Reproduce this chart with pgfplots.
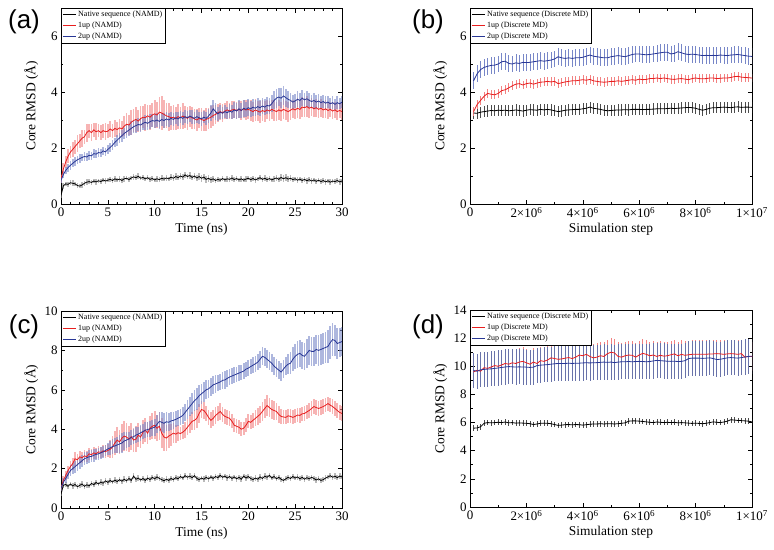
\documentclass[border=0pt]{standalone}
\usepackage{pgfplots}
\pgfplotsset{compat=1.18}
\usepackage{pgfplotstable}
\usepackage{fontspec}
\setmainfont{Liberation Serif}
\newfontfamily\panelfont{Liberation Sans}

\definecolor{cred}{RGB}{232,30,30}
\definecolor{cblue}{RGB}{40,55,150}
\definecolor{ered}{RGB}{242,130,130}
\definecolor{eblue}{RGB}{120,135,200}
\definecolor{egrey}{RGB}{140,140,140}
\definecolor{edblue}{RGB}{105,115,170}

% Panel (a): time (ns), native, err, 1up, err, 2up, err
\pgfplotstableread{
t k ke r re b be
0 0.30 0.08 0.90 0.15 0.85 0.10
0.25 0.65 0.10 1.25 0.20 1.05 0.12
0.5 0.72 0.08 1.50 0.22 1.20 0.12
0.75 0.70 0.10 1.70 0.25 1.30 0.14
1 0.76 0.08 1.85 0.22 1.38 0.15
1.25 0.74 0.10 1.95 0.28 1.45 0.14
1.5 0.72 0.08 2.05 0.25 1.52 0.16
1.75 0.66 0.10 2.15 0.30 1.58 0.14
2 0.64 0.08 2.25 0.25 1.62 0.15
2.25 0.68 0.10 2.35 0.30 1.66 0.14
2.5 0.74 0.08 2.40 0.25 1.70 0.15
2.75 0.78 0.10 2.55 0.32 1.68 0.14
3 0.80 0.08 2.62 0.25 1.74 0.16
3.25 0.77 0.10 2.55 0.30 1.72 0.14
3.5 0.82 0.08 2.65 0.25 1.80 0.15
3.75 0.79 0.10 2.58 0.30 1.78 0.14
4 0.83 0.08 2.62 0.22 1.84 0.16
4.25 0.80 0.10 2.55 0.28 1.82 0.14
4.5 0.86 0.08 2.62 0.25 1.90 0.15
4.75 0.82 0.10 2.58 0.30 1.86 0.14
5 0.85 0.08 2.60 0.25 1.95 0.16
5.25 0.88 0.10 2.68 0.30 2.02 0.15
5.5 0.84 0.08 2.62 0.25 2.10 0.18
5.75 0.90 0.10 2.70 0.30 2.20 0.16
6 0.86 0.08 2.66 0.28 2.28 0.20
6.25 0.89 0.10 2.72 0.32 2.36 0.18
6.5 0.84 0.08 2.68 0.30 2.44 0.22
6.75 0.90 0.10 2.78 0.35 2.52 0.20
7 0.92 0.08 2.85 0.40 2.58 0.24
7.25 0.87 0.10 2.82 0.35 2.64 0.22
7.5 0.93 0.08 2.92 0.45 2.70 0.25
7.75 0.97 0.10 2.98 0.40 2.76 0.22
8 0.94 0.08 3.02 0.45 2.80 0.25
8.25 0.99 0.10 2.96 0.38 2.84 0.22
8.5 0.92 0.08 3.05 0.45 2.82 0.26
8.75 0.95 0.10 3.10 0.40 2.88 0.24
9 0.90 0.08 3.08 0.48 2.92 0.26
9.25 0.94 0.10 3.15 0.40 2.88 0.24
9.5 0.88 0.08 3.10 0.45 2.94 0.26
9.75 0.91 0.10 3.18 0.42 2.98 0.24
10 0.86 0.08 3.22 0.50 2.96 0.26
10.25 0.90 0.10 3.18 0.45 3.00 0.24
10.5 0.87 0.08 3.28 0.55 2.95 0.26
10.75 0.92 0.10 3.25 0.60 3.02 0.24
11 0.89 0.08 3.20 0.50 2.98 0.26
11.25 0.93 0.10 3.15 0.45 3.04 0.24
11.5 0.90 0.08 3.12 0.50 3.00 0.26
11.75 0.96 0.10 3.08 0.42 3.06 0.24
12 0.92 0.10 3.10 0.45 3.02 0.24
12.25 0.98 0.12 3.05 0.40 3.08 0.22
12.5 0.94 0.10 3.12 0.45 3.04 0.24
12.75 1.00 0.12 3.08 0.40 3.10 0.22
13 0.96 0.10 3.14 0.45 3.06 0.24
13.25 1.04 0.12 3.10 0.40 3.12 0.22
13.5 0.98 0.10 3.06 0.42 3.08 0.24
13.75 1.02 0.12 3.12 0.38 3.14 0.22
14 0.95 0.10 3.08 0.40 3.10 0.24
14.25 1.00 0.12 3.04 0.36 3.06 0.22
14.5 0.93 0.10 3.00 0.40 3.12 0.24
14.75 0.98 0.12 3.06 0.36 3.08 0.22
15 0.92 0.12 3.02 0.40 3.04 0.24
15.25 0.96 0.12 2.98 0.36 3.10 0.22
15.5 0.88 0.12 3.02 0.42 3.06 0.24
15.75 0.92 0.12 3.06 0.38 3.14 0.26
16 0.86 0.10 3.10 0.40 3.25 0.28
16.25 0.90 0.10 3.16 0.36 3.40 0.32
16.5 0.84 0.10 3.20 0.34 3.30 0.30
16.75 0.88 0.10 3.26 0.32 3.22 0.26
17 0.85 0.08 3.30 0.30 3.28 0.24
17.25 0.91 0.10 3.26 0.32 3.24 0.22
17.5 0.86 0.08 3.32 0.30 3.30 0.24
17.75 0.90 0.10 3.36 0.32 3.26 0.22
18 0.88 0.08 3.32 0.30 3.32 0.26
18.25 0.93 0.10 3.36 0.32 3.28 0.24
18.5 0.87 0.08 3.38 0.30 3.36 0.28
18.75 0.91 0.10 3.34 0.32 3.32 0.30
19 0.86 0.08 3.38 0.30 3.40 0.32
19.25 0.90 0.10 3.34 0.34 3.34 0.28
19.5 0.85 0.08 3.40 0.32 3.42 0.30
19.75 0.89 0.10 3.36 0.36 3.38 0.28
20 0.92 0.08 3.38 0.34 3.44 0.30
20.25 0.87 0.10 3.34 0.38 3.40 0.28
20.5 0.91 0.08 3.30 0.36 3.46 0.30
20.75 0.86 0.10 3.36 0.40 3.42 0.28
21 0.90 0.08 3.32 0.36 3.48 0.30
21.25 0.94 0.10 3.28 0.40 3.44 0.28
21.5 0.88 0.08 3.34 0.36 3.50 0.30
21.75 0.92 0.10 3.30 0.38 3.46 0.28
22 0.87 0.08 3.36 0.34 3.52 0.30
22.25 0.91 0.10 3.32 0.36 3.50 0.28
22.5 0.86 0.08 3.38 0.34 3.58 0.30
22.75 0.90 0.10 3.34 0.36 3.70 0.32
23 0.93 0.10 3.30 0.34 3.78 0.34
23.25 0.88 0.10 3.36 0.36 3.82 0.32
23.5 0.95 0.12 3.32 0.34 3.78 0.36
23.75 0.90 0.12 3.38 0.36 3.86 0.34
24 0.94 0.12 3.34 0.34 3.80 0.32
24.25 0.89 0.10 3.30 0.36 3.74 0.30
24.5 0.92 0.10 3.35 0.34 3.70 0.28
24.75 0.87 0.10 3.40 0.32 3.64 0.26
25 0.90 0.08 3.36 0.34 3.68 0.26
25.25 0.85 0.10 3.42 0.36 3.74 0.28
25.5 0.89 0.08 3.38 0.34 3.70 0.26
25.75 0.84 0.10 3.46 0.36 3.78 0.28
26 0.88 0.08 3.44 0.34 3.72 0.26
26.25 0.83 0.10 3.48 0.36 3.76 0.28
26.5 0.87 0.08 3.42 0.34 3.70 0.26
26.75 0.82 0.10 3.46 0.32 3.66 0.24
27 0.86 0.08 3.40 0.30 3.70 0.26
27.25 0.81 0.10 3.44 0.32 3.64 0.24
27.5 0.85 0.08 3.38 0.30 3.68 0.26
27.75 0.80 0.10 3.42 0.32 3.62 0.24
28 0.84 0.08 3.36 0.30 3.66 0.22
28.25 0.79 0.10 3.40 0.32 3.60 0.24
28.5 0.83 0.08 3.34 0.30 3.64 0.22
28.75 0.78 0.10 3.38 0.28 3.58 0.20
29 0.82 0.08 3.32 0.30 3.62 0.22
29.25 0.80 0.10 3.36 0.28 3.56 0.20
29.5 0.84 0.08 3.30 0.30 3.62 0.22
29.75 0.79 0.10 3.34 0.28 3.58 0.20
30 0.82 0.08 3.30 0.30 3.64 0.22
}\dataA

% Panel (c)
\pgfplotstableread{
t k ke r re b be
0 0.70 0.10 1.00 0.15 1.00 0.15
0.25 1.15 0.12 1.40 0.20 1.30 0.20
0.5 1.20 0.12 1.65 0.22 1.50 0.22
0.75 1.10 0.14 1.90 0.25 1.70 0.25
1 1.22 0.12 2.10 0.28 1.90 0.28
1.25 1.12 0.14 2.25 0.30 2.00 0.28
1.5 1.20 0.12 2.50 0.35 2.10 0.30
1.75 1.08 0.14 2.45 0.30 2.20 0.30
2 1.15 0.12 2.60 0.30 2.30 0.30
2.25 1.22 0.14 2.55 0.28 2.40 0.30
2.5 1.10 0.12 2.65 0.30 2.50 0.32
2.75 1.18 0.14 2.60 0.28 2.55 0.30
3 1.12 0.12 2.75 0.30 2.60 0.32
3.25 1.25 0.14 2.70 0.28 2.62 0.30
3.5 1.18 0.12 2.80 0.30 2.68 0.32
3.75 1.30 0.14 2.75 0.28 2.72 0.30
4 1.22 0.12 2.85 0.30 2.75 0.30
4.25 1.32 0.14 2.82 0.28 2.80 0.30
4.5 1.26 0.12 2.90 0.30 2.85 0.32
4.75 1.38 0.14 2.86 0.32 2.92 0.30
5 1.30 0.12 2.92 0.35 3.00 0.32
5.25 1.40 0.14 2.98 0.45 3.05 0.34
5.5 1.32 0.12 3.10 0.55 3.12 0.36
5.75 1.42 0.14 3.30 0.60 3.15 0.38
6 1.34 0.12 3.45 0.65 3.20 0.40
6.25 1.44 0.14 3.35 0.60 3.25 0.45
6.5 1.36 0.12 3.55 0.70 3.30 0.50
6.75 1.46 0.14 3.65 0.75 3.40 0.45
7 1.38 0.12 3.60 0.70 3.45 0.40
7.25 1.50 0.14 3.50 0.65 3.50 0.38
7.5 1.40 0.12 3.62 0.70 3.58 0.40
7.75 1.62 0.14 3.45 0.60 3.62 0.38
8 1.46 0.12 3.50 0.65 3.70 0.40
8.25 1.52 0.14 3.70 0.60 3.75 0.38
8.5 1.42 0.12 3.60 0.55 3.82 0.40
8.75 1.50 0.14 3.85 0.60 3.88 0.38
9 1.40 0.12 3.95 0.60 3.95 0.40
9.25 1.52 0.14 3.80 0.55 3.98 0.38
9.5 1.44 0.12 4.05 0.60 4.02 0.40
9.75 1.56 0.14 4.15 0.65 4.06 0.40
10 1.48 0.12 4.20 0.70 4.10 0.42
10.25 1.58 0.14 4.05 0.65 4.25 0.45
10.5 1.50 0.12 4.15 0.70 4.40 0.48
10.75 1.44 0.14 3.80 0.75 4.35 0.50
11 1.38 0.12 3.60 0.70 4.30 0.50
11.25 1.46 0.14 3.55 0.65 4.38 0.48
11.5 1.40 0.12 3.65 0.60 4.35 0.46
11.75 1.50 0.14 3.72 0.55 4.42 0.44
12 1.44 0.12 3.80 0.50 4.45 0.42
12.25 1.54 0.14 3.75 0.45 4.50 0.40
12.5 1.48 0.12 3.82 0.40 4.56 0.40
12.75 1.60 0.14 3.78 0.35 4.62 0.40
13 1.52 0.12 3.85 0.35 4.70 0.42
13.25 1.64 0.14 3.95 0.40 4.85 0.45
13.5 1.56 0.12 4.10 0.40 5.00 0.48
13.75 1.62 0.14 4.25 0.45 5.15 0.50
14 1.54 0.12 4.40 0.45 5.30 0.55
14.25 1.64 0.14 4.45 0.50 5.45 0.55
14.5 1.50 0.12 4.55 0.50 5.55 0.55
14.75 1.44 0.14 4.80 0.50 5.70 0.55
15 1.52 0.12 5.00 0.45 5.80 0.50
15.25 1.46 0.14 4.95 0.45 5.90 0.50
15.5 1.56 0.12 4.80 0.40 6.00 0.48
15.75 1.48 0.14 4.60 0.40 6.05 0.46
16 1.58 0.12 4.45 0.40 6.15 0.45
16.25 1.50 0.14 4.55 0.40 6.25 0.45
16.5 1.60 0.12 4.70 0.42 6.30 0.44
16.75 1.54 0.14 4.80 0.40 6.35 0.42
17 1.66 0.12 4.90 0.42 6.40 0.42
17.25 1.56 0.14 4.75 0.40 6.48 0.42
17.5 1.62 0.12 4.65 0.40 6.50 0.44
17.75 1.52 0.14 4.60 0.38 6.58 0.42
18 1.60 0.12 4.55 0.38 6.65 0.42
18.25 1.50 0.14 4.40 0.36 6.70 0.40
18.5 1.58 0.12 4.20 0.36 6.75 0.40
18.75 1.48 0.14 4.15 0.36 6.80 0.38
19 1.56 0.12 4.10 0.36 6.85 0.40
19.25 1.46 0.14 4.00 0.36 6.90 0.38
19.5 1.62 0.12 4.05 0.34 6.95 0.40
19.75 1.52 0.14 4.20 0.36 7.05 0.38
20 1.60 0.12 4.40 0.36 7.10 0.40
20.25 1.50 0.14 4.35 0.36 7.18 0.40
20.5 1.44 0.12 4.45 0.38 7.25 0.40
20.75 1.52 0.14 4.55 0.40 7.32 0.40
21 1.46 0.12 4.65 0.42 7.40 0.42
21.25 1.58 0.14 4.75 0.45 7.55 0.42
21.5 1.50 0.12 4.90 0.48 7.70 0.45
21.75 1.62 0.14 5.05 0.50 7.65 0.45
22 1.56 0.12 5.20 0.55 7.55 0.45
22.25 1.66 0.14 5.10 0.50 7.45 0.45
22.5 1.52 0.12 5.00 0.50 7.35 0.45
22.75 1.60 0.14 4.95 0.48 7.20 0.45
23 1.48 0.12 4.90 0.45 7.10 0.45
23.25 1.56 0.14 4.75 0.42 7.00 0.45
23.5 1.46 0.12 4.65 0.40 6.90 0.45
23.75 1.40 0.14 4.62 0.38 7.05 0.45
24 1.48 0.12 4.60 0.36 7.20 0.45
24.25 1.56 0.14 4.68 0.36 7.30 0.50
24.5 1.50 0.12 4.65 0.36 7.35 0.55
24.75 1.60 0.14 4.60 0.36 7.55 0.60
25 1.52 0.12 4.65 0.36 7.70 0.65
25.25 1.58 0.14 4.72 0.36 7.80 0.70
25.5 1.48 0.12 4.70 0.36 7.85 0.70
25.75 1.56 0.14 4.78 0.36 7.75 0.70
26 1.46 0.12 4.80 0.36 7.70 0.70
26.25 1.54 0.14 4.88 0.36 7.85 0.75
26.5 1.48 0.12 4.95 0.36 8.00 0.75
26.75 1.56 0.14 5.05 0.36 7.95 0.75
27 1.50 0.12 5.15 0.36 7.95 0.75
27.25 1.42 0.14 5.10 0.36 8.05 0.75
27.5 1.48 0.12 5.05 0.36 8.00 0.80
27.75 1.40 0.14 5.10 0.36 8.05 0.80
28 1.44 0.12 5.15 0.36 8.10 0.80
28.25 1.52 0.14 5.22 0.36 8.15 0.80
28.5 1.58 0.12 5.30 0.36 8.20 0.85
28.75 1.64 0.14 5.22 0.36 8.40 0.85
29 1.56 0.12 5.15 0.36 8.55 0.85
29.25 1.62 0.14 5.05 0.36 8.50 0.80
29.5 1.54 0.12 4.95 0.36 8.35 0.80
29.75 1.62 0.14 4.85 0.36 8.40 0.75
30 1.58 0.12 4.80 0.36 8.45 0.75
}\dataC

% Panel (b): step (millions), native, 1up, 2up
\pgfplotstableread{
s k r b
0.125 3.25 3.30 4.40
0.25 3.24 3.55 4.65
0.375 3.28 3.70 4.80
0.5 3.30 3.85 4.88
0.625 3.32 3.95 4.92
0.75 3.34 3.92 4.95
0.875 3.33 3.90 4.96
1.0 3.35 3.95 5.00
1.125 3.34 4.05 5.08
1.25 3.35 4.08 5.10
1.375 3.33 4.15 5.02
1.5 3.34 4.22 5.00
1.625 3.36 4.28 5.04
1.75 3.34 4.30 5.02
1.875 3.32 4.25 5.06
2.0 3.35 4.30 5.05
2.125 3.37 4.32 5.06
2.25 3.36 4.28 5.08
2.375 3.35 4.32 5.10
2.5 3.38 4.35 5.12
2.625 3.36 4.36 5.10
2.75 3.38 4.38 5.12
2.875 3.36 4.36 5.14
3.0 3.33 4.38 5.18
3.125 3.30 4.30 5.26
3.25 3.32 4.33 5.22
3.375 3.35 4.36 5.20
3.5 3.36 4.38 5.22
3.625 3.37 4.40 5.20
3.75 3.38 4.40 5.22
3.875 3.38 4.42 5.22
4.0 3.40 4.44 5.24
4.125 3.42 4.42 5.28
4.25 3.46 4.45 5.32
4.375 3.42 4.40 5.28
4.5 3.40 4.38 5.26
4.625 3.38 4.36 5.24
4.75 3.35 4.35 5.22
4.875 3.33 4.36 5.22
5.0 3.34 4.38 5.26
5.125 3.35 4.38 5.28
5.25 3.36 4.40 5.30
5.375 3.36 4.38 5.28
5.5 3.37 4.40 5.26
5.625 3.36 4.42 5.30
5.75 3.38 4.44 5.34
5.875 3.38 4.42 5.36
6.0 3.38 4.46 5.36
6.125 3.37 4.44 5.34
6.25 3.38 4.45 5.33
6.375 3.38 4.48 5.34
6.5 3.39 4.48 5.36
6.625 3.40 4.50 5.38
6.75 3.40 4.48 5.40
6.875 3.40 4.50 5.42
7.0 3.41 4.48 5.42
7.125 3.42 4.46 5.36
7.25 3.41 4.45 5.38
7.375 3.42 4.47 5.44
7.5 3.43 4.48 5.40
7.625 3.44 4.46 5.36
7.75 3.45 4.44 5.34
7.875 3.44 4.48 5.35
8.0 3.42 4.50 5.34
8.125 3.38 4.48 5.32
8.25 3.35 4.47 5.30
8.375 3.38 4.48 5.31
8.5 3.42 4.50 5.30
8.625 3.44 4.50 5.31
8.75 3.44 4.48 5.30
8.875 3.45 4.49 5.32
9.0 3.46 4.50 5.31
9.125 3.45 4.50 5.30
9.25 3.44 4.52 5.32
9.375 3.46 4.55 5.33
9.5 3.47 4.56 5.34
9.625 3.45 4.53 5.32
9.75 3.46 4.52 5.30
9.875 3.46 4.51 5.28
10.0 3.45 4.50 5.27
}\dataB

% Panel (d)
\pgfplotstableread{
s k r b
0.125 5.60 9.60 9.70
0.25 5.62 9.72 9.65
0.375 5.70 9.65 9.75
0.5 5.95 9.90 9.78
0.625 6.00 9.85 9.80
0.75 5.98 9.95 9.82
0.875 6.00 10.05 9.85
1.0 6.02 10.00 9.88
1.125 6.00 10.10 9.92
1.25 6.04 10.20 9.95
1.375 5.98 10.15 9.98
1.5 6.00 10.25 9.96
1.625 5.96 10.20 9.95
1.75 5.98 10.30 9.96
1.875 5.96 10.35 9.95
2.0 5.95 10.25 9.94
2.125 5.92 10.15 9.92
2.25 5.86 10.30 9.94
2.375 5.90 10.20 10.05
2.5 5.95 10.40 10.08
2.625 5.96 10.35 10.10
2.75 5.95 10.45 10.12
2.875 5.92 10.60 10.15
3.0 5.86 10.55 10.18
3.125 5.80 10.50 10.20
3.25 5.82 10.52 10.20
3.375 5.85 10.58 10.20
3.5 5.86 10.62 10.22
3.625 5.84 10.55 10.20
3.75 5.86 10.65 10.22
3.875 5.85 10.80 10.22
4.0 5.82 10.75 10.24
4.125 5.85 10.85 10.25
4.25 5.88 10.70 10.24
4.375 5.90 10.60 10.25
4.5 5.90 10.65 10.26
4.625 5.92 10.75 10.28
4.75 5.90 10.70 10.30
4.875 5.92 10.90 10.28
5.0 5.92 11.00 10.30
5.125 5.90 10.95 10.26
5.25 5.92 10.70 10.30
5.375 5.95 10.65 10.32
5.5 5.98 10.75 10.32
5.625 6.10 10.80 10.34
5.75 6.12 10.78 10.32
5.875 6.12 10.65 10.34
6.0 6.10 10.80 10.35
6.125 6.08 10.92 10.34
6.25 6.05 10.85 10.32
6.375 6.02 10.75 10.34
6.5 6.00 10.80 10.38
6.625 6.04 10.70 10.42
6.75 6.02 10.78 10.40
6.875 6.00 10.72 10.38
7.0 6.02 10.75 10.36
7.125 6.00 10.82 10.35
7.25 6.02 10.88 10.36
7.375 5.98 10.75 10.34
7.5 6.00 10.85 10.35
7.625 5.98 10.78 10.40
7.75 5.96 10.82 10.55
7.875 5.94 10.85 10.58
8.0 5.96 10.85 10.58
8.125 5.94 10.85 10.58
8.25 5.92 10.85 10.56
8.375 5.95 10.85 10.58
8.5 6.00 10.88 10.60
8.625 6.05 10.88 10.55
8.75 6.02 10.90 10.48
8.875 6.00 10.88 10.50
9.0 6.04 10.85 10.55
9.125 6.10 10.88 10.60
9.25 6.20 10.90 10.62
9.375 6.18 10.88 10.60
9.5 6.15 10.85 10.58
9.625 6.14 10.90 10.62
9.75 6.12 10.65 10.66
9.875 6.10 10.70 10.70
10.0 6.05 10.70 10.72
}\dataD

\pgfplotsset{
  base/.style={
    scale only axis,
    axis line style={line width=0.7bp},
    tick align=inside,
    major tick length=4.5bp,
    minor tick length=2.5bp,
    every tick/.style={black, line width=0.6bp},
    ticklabel style={font=\fontsize{13}{13}\selectfont},
    /pgf/number format/assume math mode=true,
    label style={font=\fontsize{13.5}{14}\selectfont},
    xlabel style={at={(axis description cs:0.5,0)}, anchor=north, yshift=-19bp, inner sep=0pt},
    ylabel style={at={(axis description cs:-0.08,0.5)}, anchor=south, inner sep=0pt},
    ylabel={Core RMSD (Å)},
    legend style={at={(0,1)}, anchor=north west, draw=black, line width=0.7bp,
      font=\fontsize{8}{9.5}\selectfont, inner xsep=1bp, inner ysep=1bp, row sep=0bp},
    legend cell align=left,
    legend image code/.code={\draw[##1, line width=0.9bp] (0bp,0bp) -- (13bp,0bp);},
  },
  namd/.style={base, width=281bp, xmin=0, xmax=30, xtick={0,5,...,30},
    minor x tick num=4, minor y tick num=1, xlabel={Time (ns)}},
  dmd/.style={base, width=282bp, xmin=0, xmax=10, xtick={0,2,4,6,8,10},
    xticklabels={0,2×10\textsuperscript{6},4×10\textsuperscript{6},6×10\textsuperscript{6},8×10\textsuperscript{6},1×10\textsuperscript{7}},
    minor x tick num=1, minor y tick num=1, xlabel={Simulation step}},
  errn/.style={forget plot, draw=none, error bars/.cd, y dir=both, y explicit,
    error mark=none, error bar style={draw=#1, line width=1.7bp, opacity=0.6}},
  errd/.style 2 args={forget plot, draw=none, error bars/.cd, y dir=both, y fixed=#2,
    error mark=none, error bar style={draw=#1, line width=0.6bp}},
}

\begin{document}
\begin{tikzpicture}
\path[use as bounding box] (0,0) rectangle (774bp,-550bp);

% (a)
\begin{axis}[namd, at={(61bp,-204bp)}, anchor=south west, height=196bp,
  ymin=0, ymax=7, ytick={0,2,4,6}]
\addplot[errn=egrey] table[x=t, y=k, y error=ke] {\dataA};
\addplot[errn=ered] table[x=t, y=r, y error=re] {\dataA};
\addplot[errn=eblue] table[x=t, y=b, y error=be] {\dataA};
\addplot[black, line width=0.8bp] table[x=t, y=k] {\dataA};
\addlegendentry{Native sequence (NAMD)}
\addplot[cred, line width=0.8bp] table[x=t, y=r] {\dataA};
\addlegendentry{1up (NAMD)}
\addplot[cblue, line width=0.8bp] table[x=t, y=b] {\dataA};
\addlegendentry{2up (NAMD)}
\end{axis}

% (b)
\begin{axis}[dmd, at={(470bp,-204bp)}, anchor=south west, height=196bp,
  ymin=0, ymax=7, ytick={0,2,4,6}]
\addplot[errd={black!70}{0.2}] table[x=s, y=k] {\dataB};
\addplot[errd={ered}{0.16}] table[x=s, y=r] {\dataB};
\addplot[errd={eblue}{0.3}] table[x=s, y=b] {\dataB};
\addplot[black, line width=0.8bp] table[x=s, y=k] {\dataB};
\addlegendentry{Native sequence (Discrete MD)}
\addplot[cred, line width=0.8bp] table[x=s, y=r] {\dataB};
\addlegendentry{1up (Discrete MD)}
\addplot[cblue, line width=0.8bp] table[x=s, y=b] {\dataB};
\addlegendentry{2up (Discrete MD)}
\end{axis}

% (c)
\begin{axis}[namd, at={(61bp,-508bp)}, anchor=south west, height=197bp,
  ymin=0, ymax=10, ytick={0,2,4,6,8,10}]
\addplot[errn=egrey] table[x=t, y=k, y error=ke] {\dataC};
\addplot[errn=ered] table[x=t, y=r, y error=re] {\dataC};
\addplot[errn=eblue] table[x=t, y=b, y error=be] {\dataC};
\addplot[black, line width=0.8bp] table[x=t, y=k] {\dataC};
\addlegendentry{Native sequence (NAMD)}
\addplot[cred, line width=0.8bp] table[x=t, y=r] {\dataC};
\addlegendentry{1up (NAMD)}
\addplot[cblue, line width=0.8bp] table[x=t, y=b] {\dataC};
\addlegendentry{2up (NAMD)}
\end{axis}

% (d)
\begin{axis}[dmd, at={(470bp,-507bp)}, anchor=south west, height=197bp,
  ymin=0, ymax=14, ytick={0,2,...,14}]
\addplot[errd={black!70}{0.2}] table[x=s, y=k] {\dataD};
\addplot[errd={ered}{1.0}] table[x=s, y=r] {\dataD};
\addplot[errd={edblue}{1.25}] table[x=s, y=b] {\dataD};
\addplot[black, line width=0.8bp] table[x=s, y=k] {\dataD};
\addlegendentry{Native sequence (Discrete MD)}
\addplot[cred, line width=0.8bp] table[x=s, y=r] {\dataD};
\addlegendentry{1up (Discrete MD)}
\addplot[cblue, line width=0.8bp] table[x=s, y=b] {\dataD};
\addlegendentry{2up (Discrete MD)}
\end{axis}

\node[font=\panelfont\fontsize{26}{26}\selectfont] at (24bp,-22bp) {(a)};
\node[font=\panelfont\fontsize{26}{26}\selectfont] at (428bp,-22bp) {(b)};
\node[font=\panelfont\fontsize{26}{26}\selectfont] at (24bp,-327bp) {(c)};
\node[font=\panelfont\fontsize{26}{26}\selectfont] at (428bp,-327bp) {(d)};
\end{tikzpicture}
\end{document}
